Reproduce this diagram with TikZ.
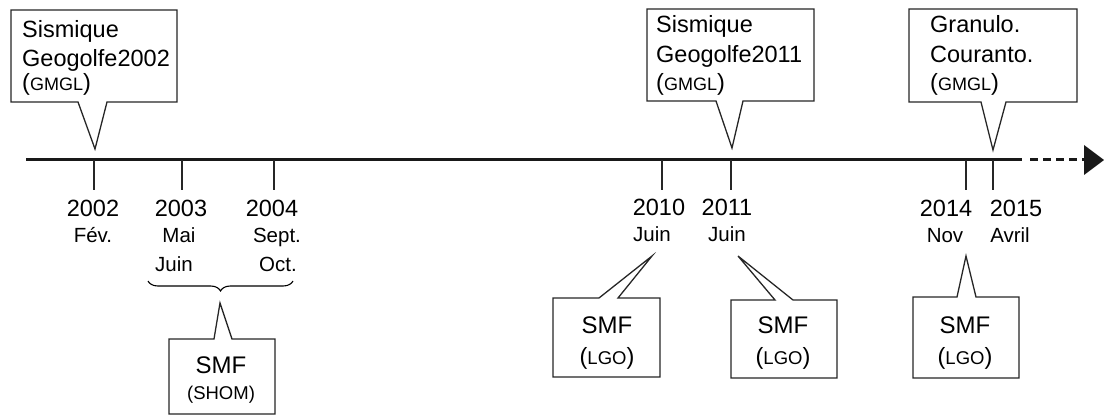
\documentclass[tikz,border=0pt]{standalone}
\usepackage{fontspec}
\setmainfont{Liberation Sans}
\usetikzlibrary{decorations.pathreplacing}
\newcommand{\pwrap}[2]{{\fontsize{23.5}{26}\selectfont(}{\fontsize{#2}{22}\selectfont #1}{\fontsize{23.5}{26}\selectfont)}}
\begin{document}
\begin{tikzpicture}[x=1pt,y=-1pt,
  box/.style={draw=black!85, line width=1.3pt, fill=white, line join=miter},
  yr/.style={font=\fontsize{23.5}{26}\selectfont, anchor=base, inner sep=0pt},
  mo/.style={font=\fontsize{20.5}{24}\selectfont, anchor=base, inner sep=0pt},
  big/.style={font=\fontsize{23.5}{26}\selectfont, anchor=base west, inner sep=0pt},
  smf/.style={font=\fontsize{24}{26}\selectfont, anchor=base, inner sep=0pt},
  org/.style={anchor=base, inner sep=0pt},
  tick/.style={line width=1.6pt, draw=black!85},
  axis/.style={line width=3pt, draw=black!90}
]
\useasboundingbox (0,0) rectangle (1104,417);

% timeline
\coordinate (tlstart) at (26,160);
\coordinate (tlend) at (1022,160);
\coordinate (dotstart) at (1030,160);
\coordinate (dotend) at (1084,160);
\draw[axis] (tlstart) -- (tlend);
\draw[axis, dash pattern=on 8pt off 5pt] (dotstart) -- (dotend);
\fill[black!90] (1084,145) -- (1104,160) -- (1084,175) -- cycle;

% ticks
\foreach \n/\x in {t2002/94, t2003/182, t2004/274, t2010/662, t2011/731, t2014/966, t2015/993}{
  \coordinate (\n) at (\x,160);
  \coordinate (\n b) at (\x,190);
  \draw[tick] (\n) -- (\n b);
}

% year labels
\node[yr] (y2002) at (93,216) {2002};
\node[mo] (m2002) at (93,242) {Fév.};
\node[yr] (y2003) at (181,216) {2003};
\node[mo] (m2003a) at (179,242) {Mai};
\node[mo] (m2003b) at (174,271) {Juin};
\node[yr] (y2004) at (272,216) {2004};
\node[mo] (m2004a) at (277,242) {Sept.};
\node[mo] (m2004b) at (278,271) {Oct.};
\node[yr] (y2010) at (659,215) {2010};
\node[mo] (m2010) at (652,241) {Juin};
\node[yr] (y2011) at (727,215) {2011};
\node[mo] (m2011) at (727,241) {Juin};
\node[yr] (y2014) at (946,216) {2014};
\node[mo] (m2014) at (945,242) {Nov};
\node[yr] (y2015) at (1016,216) {2015};
\node[mo] (m2015) at (1010,242) {Avril};

% brace
\coordinate (brl) at (148,281);
\coordinate (brr) at (293,281);
\draw[line width=1.1pt, decorate, decoration={brace, mirror, amplitude=10pt}] (brl) -- (brr);

% top callouts
\draw[box] (11,10) -- (177,10) -- (177,102) -- (107,102) -- (95,149) -- (78,102) -- (11,102) -- cycle;
\node[big] (c1a) at (22,38) {Sismique};
\node[big] (c1b) at (22,67) {Geogolfe2002};
\node[big] (c1c) at (22,91) {\pwrap{GMGL}{18}};

\draw[box] (647,9) -- (814,9) -- (814,101) -- (743,101) -- (732,148) -- (716,101) -- (647,101) -- cycle;
\node[big] (c2a) at (656,33) {Sismique};
\node[big] (c2b) at (656,63) {Geogolfe2011};
\node[big] (c2c) at (656,91) {\pwrap{GMGL}{18}};

\draw[box] (909,9) -- (1077,9) -- (1077,102) -- (1006,102) -- (993,150) -- (981,102) -- (909,102) -- cycle;
\node[big] (c3a) at (930,33) {Granulo.};
\node[big] (c3b) at (930,63) {Couranto.};
\node[big] (c3c) at (930,91) {\pwrap{GMGL}{18}};

% bottom callouts
\draw[box] (169,339) -- (214,339) -- (220,303) -- (232,339) -- (275,339) -- (275,414) -- (169,414) -- cycle;
\node[smf] (s1a) at (221,373) {SMF};
\node[org, font=\fontsize{18.5}{20}\selectfont] (s1b) at (221,399) {(SHOM)};

\draw[box] (553,298) -- (599,298) -- (652,256) -- (618,298) -- (660,298) -- (660,377) -- (553,377) -- cycle;
\node[smf] (s2a) at (607,333) {SMF};
\node[org] (s2b) at (607,364) {\pwrap{LGO}{18.5}};

\draw[box] (731,300) -- (775,300) -- (738,256) -- (793,300) -- (837,300) -- (837,378) -- (731,378) -- cycle;
\node[smf] (s3a) at (783,333) {SMF};
\node[org] (s3b) at (783,364) {\pwrap{LGO}{18.5}};

\draw[box] (913,297) -- (957,297) -- (966,256) -- (976,297) -- (1019,297) -- (1019,378) -- (913,378) -- cycle;
\node[smf] (s4a) at (965,333) {SMF};
\node[org] (s4b) at (965,364) {\pwrap{LGO}{18.5}};
\end{tikzpicture}
\end{document}
